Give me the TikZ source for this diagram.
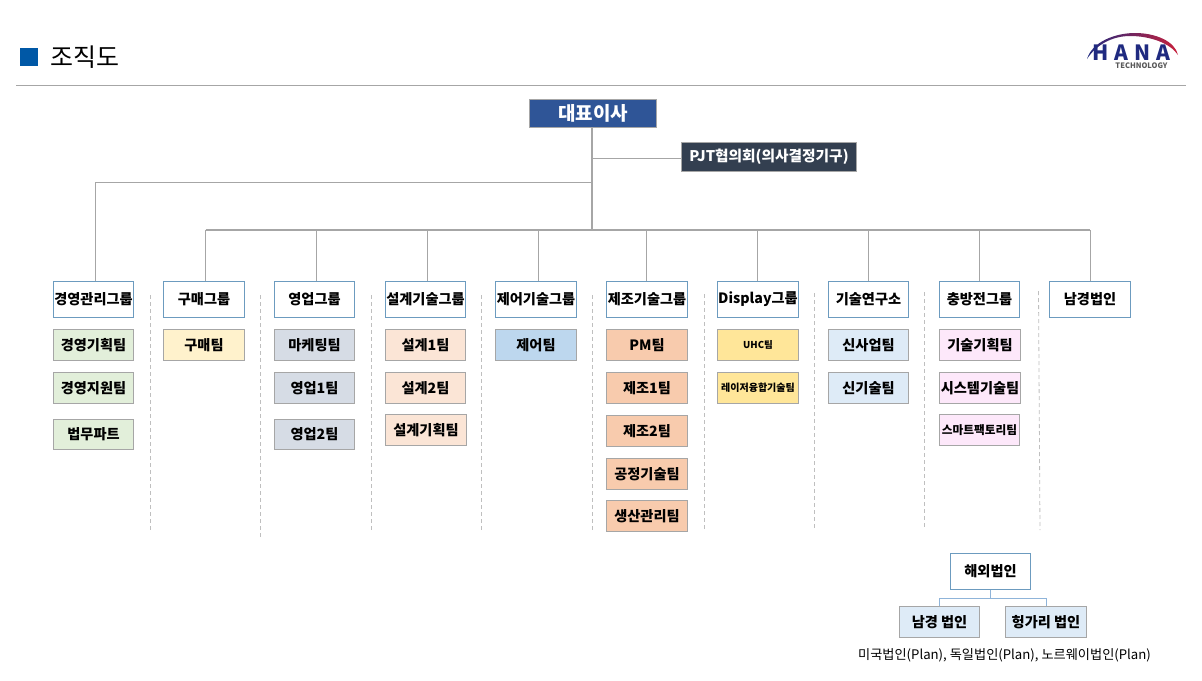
\documentclass[tikz,border=0pt]{standalone}
\usepackage{fontspec}
\setmainfont{Noto Sans CJK KR}
\usepackage{xcolor}
\definecolor{hblue}{HTML}{0058A6}
\definecolor{hceo}{HTML}{2F5597}
\definecolor{hpjt}{HTML}{333F50}
\definecolor{hline}{HTML}{A6A6A6}
\definecolor{hgroup}{HTML}{6C9BBF}
\definecolor{hsub}{HTML}{8FB4D9}
\definecolor{hnavy}{HTML}{1F2A80}
\definecolor{hred}{HTML}{C8203C}
\definecolor{hgreen}{HTML}{E2EFDA}
\definecolor{hcream}{HTML}{FFF2CC}
\definecolor{hslate}{HTML}{D6DCE5}
\definecolor{hpeach}{HTML}{FBE5D6}
\definecolor{hsky}{HTML}{BDD7EE}
\definecolor{hsalmon}{HTML}{F8CBAD}
\definecolor{hgold}{HTML}{FFE699}
\definecolor{hpale}{HTML}{DEEBF7}
\definecolor{hpink}{HTML}{FDE8FA}
\tikzset{
  topbox/.style={draw=hline, line width=1pt, text=white, font=\bfseries, inner sep=0pt},
  groupbox/.style={draw=hgroup, fill=white, line width=1pt, minimum width=80.5pt, minimum height=36pt, inner sep=0pt, font=\fontsize{14.2}{16}\selectfont\bfseries},
  teambox/.style={draw=hline, line width=1pt, minimum width=80.5pt, minimum height=30.5pt, inner sep=0pt, font=\fontsize{14.2}{16}\selectfont\bfseries},
  link/.style={draw=hline, line width=1pt},
  sublink/.style={draw=hsub, line width=1pt},
  sep/.style={draw=black!25, line width=0.8pt, dash pattern=on 4pt off 3pt},
}
\begin{document}
\begin{tikzpicture}[x=1pt,y=-1pt]
  \useasboundingbox (0,0) rectangle (1202,680);
  % heading
  \fill[hblue] (20,48) rectangle (38,66);
  \node[anchor=west, inner sep=0pt] (title) at (50,57) {\fontsize{25}{29}\selectfont 조직도};
  \draw[line width=1pt, color=hline] (16,85.5) -- (1186,85.5);
  % logo
  \shade[left color=hnavy, right color=hred] (1087,59) .. controls (1092,42) and (1115,33) .. (1135,33) .. controls (1155,33) and (1175,41) .. (1178,55) .. controls (1170,43) and (1150,36) .. (1130,36) .. controls (1112,36) and (1096,45) .. cycle;
  \node[inner sep=0pt, text=hnavy] (logoname) at (1131,52.5) {\fontsize{21}{24}\selectfont\bfseries H\hspace{6pt}A\hspace{6pt}N\hspace{6pt}A};
  \node[inner sep=0pt, text=black!65] (logosub) at (1141.5,66) {\fontsize{7.5}{9}\selectfont\bfseries TECHNOLOGY};
  % top
  \node[topbox, fill=hceo, minimum width=127pt, minimum height=28.5pt] (ceo) at (593,113.7) {\raisebox{1.5pt}{\fontsize{19}{22}\selectfont 대표이사}};
  \node[topbox, fill=hpjt, minimum width=175pt, minimum height=29pt] (pjt) at (769,156.5) {\fontsize{14.7}{17}\selectfont PJT협의회(의사결정기구)};
  % groups
  \node[groupbox] (grpa) at (93.5,299.5) {경영관리그룹};
  \node[groupbox] (grpb) at (204,299.5) {구매그룹};
  \node[groupbox] (grpc) at (314.5,299.5) {영업그룹};
  \node[groupbox] (grpd) at (425.5,299.5) {설계기술그룹};
  \node[groupbox] (grpe) at (536,299.5) {제어기술그룹};
  \node[groupbox] (grpf) at (647,299.5) {제조기술그룹};
  \node[groupbox] (grpg) at (758,299.5) {Display그룹};
  \node[groupbox] (grph) at (868.5,299.5) {기술연구소};
  \node[groupbox] (grpi) at (979.5,299.5) {충방전그룹};
  \node[groupbox] (grpj) at (1090,299.5) {남경법인};
  % teams
  \node[teambox, fill=hgreen] (mgta) at (93.5,344.8) {경영기획팀};
  \node[teambox, fill=hgreen] (mgtb) at (93.5,388) {경영지원팀};
  \node[teambox, fill=hgreen] (mgtc) at (93.5,434.5) {법무파트};
  \node[teambox, fill=hcream] (buya) at (204,344.8) {구매팀};
  \node[teambox, fill=hslate] (sala) at (314.5,344.8) {마케팅팀};
  \node[teambox, fill=hslate] (salb) at (314.5,388) {영업1팀};
  \node[teambox, fill=hslate] (salc) at (314.5,434.5) {영업2팀};
  \node[teambox, fill=hpeach] (desa) at (425.5,344.8) {설계1팀};
  \node[teambox, fill=hpeach] (desb) at (425.5,388) {설계2팀};
  \node[teambox, fill=hpeach] (desc) at (426,430) {설계기획팀};
  \node[teambox, fill=hsky] (cona) at (536,344.8) {제어팀};
  \node[teambox, fill=hsalmon] (faba) at (647,344.8) {PM팀};
  \node[teambox, fill=hsalmon] (fabb) at (647,388) {제조1팀};
  \node[teambox, fill=hsalmon] (fabc) at (647,431) {제조2팀};
  \node[teambox, fill=hsalmon] (fabd) at (647,474) {공정기술팀};
  \node[teambox, fill=hsalmon] (fabe) at (647,516) {생산관리팀};
  \node[teambox, fill=hgold] (disa) at (758,344.8) {\fontsize{9.5}{11}\selectfont UHC팀};
  \node[teambox, fill=hgold] (disb) at (758,388) {\fontsize{10}{12}\selectfont 레이저융합기술팀};
  \node[teambox, fill=hpale] (laba) at (868.5,344.8) {신사업팀};
  \node[teambox, fill=hpale] (labb) at (868.5,388) {신기술팀};
  \node[teambox, fill=hpink] (chga) at (980,344.8) {기술기획팀};
  \node[teambox, fill=hpink] (chgb) at (980,388) {시스템기술팀};
  \node[teambox, fill=hpink] (chgc) at (979.5,430) {\fontsize{11.7}{13}\selectfont 스마트팩토리팀};
  % overseas
  \node[groupbox] (abr) at (990.5,571.5) {해외법인};
  \node[teambox, fill=hpale] (abra) at (939.5,622.2) {남경 법인};
  \node[teambox, fill=hpale] (abrb) at (1046,622.2) {헝가리 법인};
  \node[inner sep=0pt] (plan) at (1004.5,655.5) {\fontsize{13.2}{15}\selectfont 미국법인(Plan), 독일법인(Plan), 노르웨이법인(Plan)};
  % connectors
  \coordinate (busa) at (592,182.5);
  \coordinate (busb) at (592,230);
  \coordinate (busc) at (592,158);
  \draw[link, line width=2pt, color=hline] ([xshift=-1pt]ceo.south) -- (busb);
  \draw[link] (busc) -- (busc -| pjt.west);
  \draw[link] (busa) -| ([xshift=2pt]grpa.north);
  \draw[link, line width=1.5pt] ([xshift=1.5pt]grpb.north |- busb) -- (grpj.north |- busb);
  \draw[link] ([xshift=1.5pt]grpb.north |- busb) -- ([xshift=1.5pt]grpb.north);
  \draw[link] ([xshift=1.5pt]grpc.north |- busb) -- ([xshift=1.5pt]grpc.north);
  \draw[link] ([xshift=1.5pt]grpd.north |- busb) -- ([xshift=1.5pt]grpd.north);
  \draw[link] ([xshift=2pt]grpe.north |- busb) -- ([xshift=2pt]grpe.north);
  \draw[link] ([xshift=-1pt]grpf.north |- busb) -- ([xshift=-1pt]grpf.north);
  \draw[link] ([xshift=-1pt]grpg.north |- busb) -- ([xshift=-1pt]grpg.north);
  \draw[link] (grph.north |- busb) -- (grph.north);
  \draw[link] (grpi.north |- busb) -- (grpi.north);
  \draw[link] (grpj.north |- busb) -- (grpj.north);
  \coordinate (abrbus) at (990.5,598.5);
  \draw[sublink] (abr.south) -- (abrbus);
  \draw[sublink] (abrbus) -| (abra.north);
  \draw[sublink] (abrbus) -| (abrb.north);
  % separators
  \coordinate (sepa) at (150.5,295);
  \coordinate (sepb) at (260.5,295);
  \coordinate (sepc) at (371.5,295);
  \coordinate (sepd) at (481,295);
  \coordinate (sepe) at (592,295);
  \coordinate (sepf) at (704,294);
  \coordinate (sepg) at (814.5,293);
  \coordinate (seph) at (924.5,292);
  \coordinate (sepi) at (1038.5,291);
  \draw[sep] (sepa) -- ++(0,235);
  \draw[sep] (sepb) -- ++(0,243);
  \draw[sep] (sepc) -- ++(0,235);
  \draw[sep] (sepd) -- ++(0,235);
  \draw[sep] (sepe) -- ++(0,235);
  \draw[sep] (sepf) -- ++(0,236);
  \draw[sep] (sepg) -- ++(0,235);
  \draw[sep] (seph) -- ++(0,236);
  \draw[sep] (sepi) -- ++(1.5,239);
\end{tikzpicture}
\end{document}
